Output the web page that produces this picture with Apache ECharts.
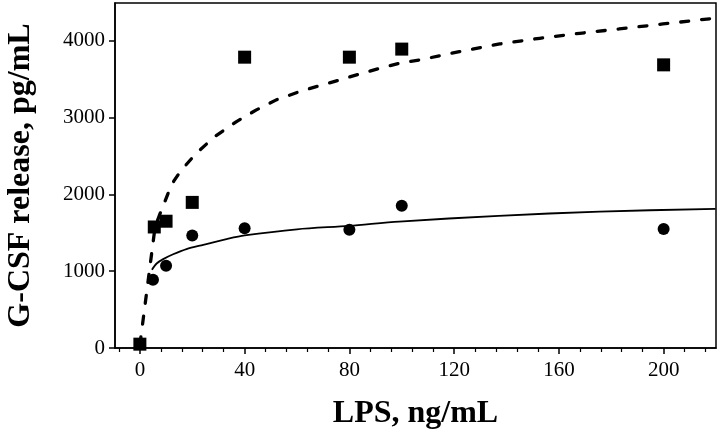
<!DOCTYPE html>
<html>
<head>
<meta charset="utf-8">
<script src="https://cdn.jsdelivr.net/npm/echarts@6/dist/echarts.min.js"></script>
<style>
html,body{margin:0;padding:0;background:#fff;}
#chart{width:720px;height:432px;}
</style>
</head>
<body>
<div id="chart"></div>
<script>
// Data
const squaresX = [0, 5.5, 10, 20, 40, 80, 100, 200];
const squaresY = [50, 1575, 1650, 1895, 3785, 3785, 3890, 3685];
const circlesX = [5, 10, 20, 40, 80, 100, 200];
const circlesY = [888, 1070, 1465, 1560, 1540, 1850, 1550];
const dashX = [0, 5.8, 7.6, 10.8, 13, 15.9, 21.6, 28.6, 36.9, 44.5, 52.1, 61, 68.7, 76.3, 84, 91.6, 99.2, 106.9, 122, 137.4, 152.7, 168, 183, 199.7, 219.8];
const dashY = [40, 1575, 1740, 2015, 2175, 2318, 2536, 2752, 2947, 3099, 3229, 3337, 3415, 3489, 3567, 3641, 3706, 3749, 3857, 3957, 4031, 4096, 4152, 4217, 4293];
const solidX = [4.6, 6.4, 8.9, 12.7, 17.8, 24.2, 33.1, 40, 60, 80, 99, 137, 175.6, 219.8];
const solidY = [1018, 1100, 1157, 1220, 1288, 1343, 1417, 1465, 1545, 1590, 1646, 1720, 1776, 1811];
const xMajorTicks = [0, 40, 80, 120, 160, 200];
const xMinorTicks = [-8, 8, 16, 24, 32, 48, 56, 64, 72, 88, 96, 104, 112, 128, 136, 144, 152, 168, 176, 184, 192, 208, 216];

const zip = (a, b) => a.map((v, i) => [v, b[i]]);
const serif = '"Liberation Serif", "DejaVu Serif", serif';

const chart = echarts.init(document.getElementById('chart'), null, {renderer: 'canvas'});
chart.setOption({
  animation: false,
  backgroundColor: '#fff',
  grid: {left: 115, right: 4, top: 3, bottom: 84, outerBoundsMode: 'none', containLabel: false,
    show: true, borderColor: '#000', borderWidth: 1.5, backgroundColor: 'transparent'},
  xAxis: [
    {
      type: 'value', position: 'bottom', min: -9.5, max: 220,
      axisLine: {show: true, onZero: false, lineStyle: {color: '#000', width: 1.5}},
      axisTick: {show: true, customValues: xMajorTicks, length: 6, inside: false, lineStyle: {color: '#000', width: 1.5}},
      axisLabel: {customValues: xMajorTicks, color: '#000', fontFamily: serif, fontSize: 21, margin: 12,
        formatter: v => String(v)},
      splitLine: {show: false},
      name: 'LPS, ng/mL', nameLocation: 'middle', nameGap: 50,
      nameTextStyle: {color: '#000', fontFamily: serif, fontSize: 32, fontWeight: 'bold'}
    },
    {
      type: 'value', position: 'bottom', min: -9.5, max: 220,
      axisLine: {show: false, onZero: false},
      axisTick: {show: true, customValues: xMinorTicks, length: 4, inside: false, lineStyle: {color: '#000', width: 1.2}},
      axisLabel: {show: false},
      splitLine: {show: false}
    }
  ],
  yAxis: {
    type: 'value', min: 0, max: 4490, interval: 1000,
    axisLine: {show: true, onZero: false, lineStyle: {color: '#000', width: 1.5}},
    axisTick: {show: true, length: 6, lineStyle: {color: '#000', width: 1.5}},
    axisLabel: {color: '#000', fontFamily: serif, fontSize: 21, margin: 10,
      showMaxLabel: false, formatter: v => String(v)},
    splitLine: {show: false},
    name: 'G-CSF release, pg/mL', nameLocation: 'middle', nameGap: 78, nameRotate: 90,
    nameTextStyle: {color: '#000', fontFamily: serif, fontSize: 32, fontWeight: 'bold'}
  },
  series: [
    {
      type: 'line', xAxisIndex: 0, data: zip(dashX, dashY), showSymbol: false, symbol: 'none',
      lineStyle: {color: '#000', width: 3.3, type: [8, 13], cap: 'round'}, z: 2
    },
    {
      type: 'line', xAxisIndex: 0, data: zip(solidX, solidY), showSymbol: false, symbol: 'none', smooth: 0.3,
      lineStyle: {color: '#000', width: 1.8}, z: 2
    },
    {
      type: 'scatter', xAxisIndex: 0, data: zip(squaresX, squaresY), symbol: 'rect', symbolSize: 13,
      itemStyle: {color: '#000', opacity: 1}, z: 3
    },
    {
      type: 'scatter', xAxisIndex: 0, data: zip(circlesX, circlesY), symbol: 'circle', symbolSize: 12,
      itemStyle: {color: '#000', opacity: 1}, z: 3
    }
  ]
});
</script>
</body>
</html>
